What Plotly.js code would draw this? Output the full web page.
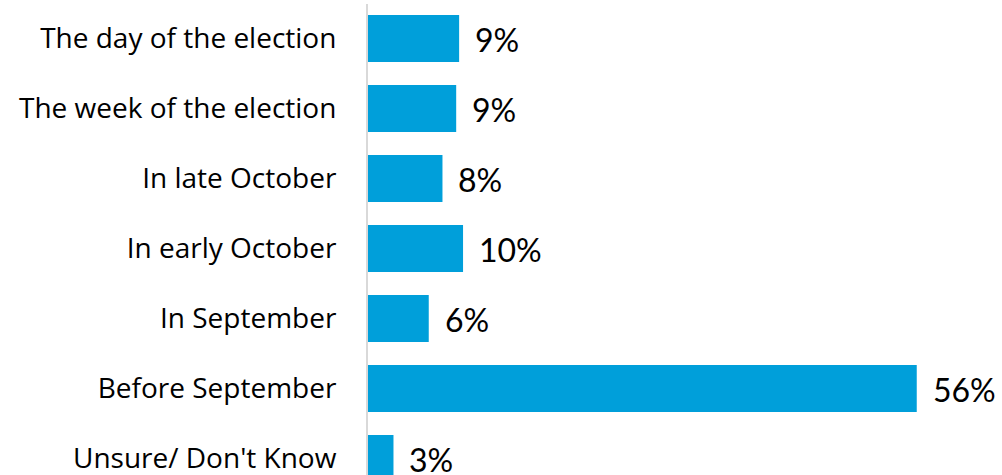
<!DOCTYPE html>
<html>
<head>
<meta charset="utf-8">
<script src="https://cdn.plot.ly/plotly-3.0.1.min.js"></script>
<style>html,body{margin:0;padding:0;background:#fff;}#chart{width:1002px;height:475px;}</style>
</head>
<body>
<div id="chart"></div>
<script>
const categories = ["The day of the election","The week of the election","In late October","In early October","In September","Before September","Unsure/ Don't Know"];
const values = [9.3, 9.0, 7.6, 9.7, 6.2, 56.0, 2.6];
const valueLabels = ["9%","9%","8%","10%","6%","56%","3%"];

const trace = {
  type: 'bar',
  orientation: 'h',
  y: categories,
  x: values,
  marker: {color: '#009FDA'},
  hoverinfo: 'none'
};

const annotations = values.map((v, i) => ({
  x: v, y: categories[i], xref: 'x', yref: 'y',
  text: valueLabels[i], showarrow: false,
  xanchor: 'left', yanchor: 'middle', xshift: 14, yshift: -1,
  font: {family: 'Lato, sans-serif', size: 32, color: '#000'}
}));

const layout = {
  width: 1002, height: 475,
  margin: {l: 368, r: 0, t: 4, b: 0, pad: 0},
  paper_bgcolor: '#fff', plot_bgcolor: '#fff',
  bargap: 0.33,
  showlegend: false,
  xaxis: {range: [0, 64.7], showgrid: false, zeroline: false, showticklabels: false, showline: false, fixedrange: true},
  yaxis: {
    type: 'category', range: [6.236, -0.493], showgrid: false, zeroline: false,
    showline: true, linecolor: '#d9d9d9', linewidth: 2, ticks: '',
    ticklabelstandoff: 24,
    tickfont: {family: '"Open Sans", sans-serif', size: 28, color: '#000'}
  },
  annotations: annotations
};

Plotly.newPlot('chart', [trace], layout, {displayModeBar: false, staticPlot: true});
</script>
</body>
</html>
